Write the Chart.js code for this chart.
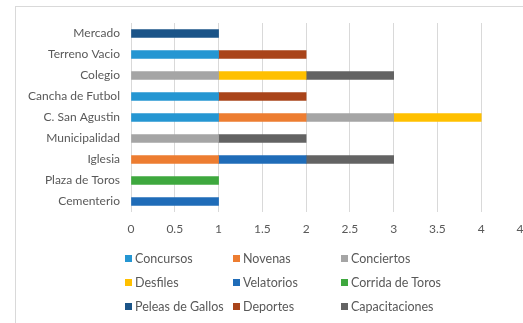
<!DOCTYPE html>
<html>
<head>
<meta charset="utf-8">
<script src="https://cdn.jsdelivr.net/npm/chart.js@4/dist/chart.umd.min.js"></script>
<style>
  html, body { margin: 0; padding: 0; background: #fff; overflow: hidden; width: 523px; height: 323px; }
  #frame { position: absolute; left: 15px; top: 6px; width: 600px; height: 400px;
           border-left: 1px solid #d9d9d9; border-top: 1px solid #d9d9d9; }
  #chart { position: absolute; left: 0; top: 0; }
  #legend { position: absolute; left: 125px; top: 246px; display: grid;
            grid-template-columns: 108px 108px 140px; grid-auto-rows: 24px;
            font: 12.5px Lato, sans-serif; color: #595959; }
  #legend span.item { display: flex; align-items: center; white-space: nowrap; }
  #legend i { display: inline-block; width: 7px; height: 7px; margin-right: 3px; }
</style>
</head>
<body>
<div id="frame"></div>
<canvas id="chart" width="545" height="323"></canvas>
<div id="legend"></div>
<script>
const categories = ['Mercado', 'Terreno Vacio', 'Colegio', 'Cancha de Futbol', 'C. San Agustin',
                    'Municipalidad', 'Iglesia', 'Plaza de Toros', 'Cementerio'];

const concursos      = [0, 1, 0, 1, 1, 0, 0, 0, 0];
const novenas        = [0, 0, 0, 0, 1, 0, 1, 0, 0];
const conciertos     = [0, 0, 1, 0, 1, 1, 0, 0, 0];
const desfiles       = [0, 0, 1, 0, 1, 0, 0, 0, 0];
const velatorios     = [0, 0, 0, 0, 0, 0, 1, 0, 1];
const corridaToros   = [0, 0, 0, 0, 0, 0, 0, 1, 0];
const peleasGallos   = [1, 0, 0, 0, 0, 0, 0, 0, 0];
const deportes       = [0, 1, 0, 1, 0, 0, 0, 0, 0];
const capacitaciones = [0, 0, 1, 0, 0, 1, 1, 0, 0];

const xTicks = [0, 0.5, 1, 1.5, 2, 2.5, 3, 3.5, 4, 4.5];

const series = [
    { label: 'Concursos', data: concursos, color: '#2596d2' },
    { label: 'Novenas', data: novenas, color: '#ed7d31' },
    { label: 'Conciertos', data: conciertos, color: '#a5a5a5' },
    { label: 'Desfiles', data: desfiles, color: '#ffc000' },
    { label: 'Velatorios', data: velatorios, color: '#1f6cb8' },
    { label: 'Corrida de  Toros', data: corridaToros, color: '#3ea83e' },
    { label: 'Peleas de Gallos', data: peleasGallos, color: '#1b5488' },
    { label: 'Deportes', data: deportes, color: '#a9441a' },
    { label: 'Capacitaciones', data: capacitaciones, color: '#636363' }
];

const font = { family: 'Lato, sans-serif', size: 12 };

let chart = new Chart(document.getElementById('chart').getContext('2d'), {
    type: 'bar',
    data: {
        labels: categories,
        datasets: series.map(s => ({
            label: s.label,
            data: s.data.map(v => v === 0 ? null : v),
            backgroundColor: s.color,
            borderWidth: 0,
            barThickness: 8
        }))
    },
    options: {
        indexAxis: 'y',
        responsive: false,
        animation: false,
        layout: { padding: { top: 23, right: 20, left: 0, bottom: 0 } },
        plugins: { legend: { display: false }, tooltip: { enabled: false } },
        scales: {
            x: {
                stacked: true,
                min: 0,
                max: 4.5,
                afterBuildTicks: scale => { scale.ticks = xTicks.map(v => ({ value: v })); },
                afterFit: scale => { scale.height = 111; },
                grid: { color: '#d9d9d9', drawTicks: false },
                border: { display: false },
                ticks: {
                    font: font, color: '#595959', padding: 10, maxRotation: 0,
                    callback: v => String(v)
                }
            },
            y: {
                stacked: true,
                afterFit: scale => { scale.width = 131; },
                grid: { display: false, drawTicks: false },
                border: { display: false },
                ticks: { font: font, color: '#595959', padding: 11 }
            }
        }
    }
});

// legend in three fixed columns
const legend = document.getElementById('legend');
series.forEach(s => {
    const item = document.createElement('span');
    item.className = 'item';
    item.innerHTML = `<i style="background:${s.color}"></i>${s.label}`;
    legend.appendChild(item);
});
</script>
</body>
</html>
